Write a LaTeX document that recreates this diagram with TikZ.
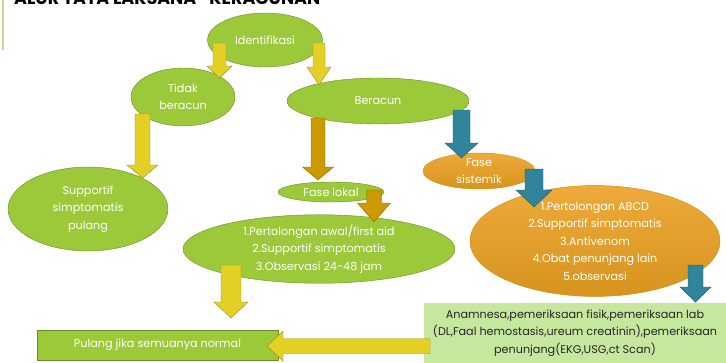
\documentclass[tikz,border=0pt]{standalone}
\usepackage{fontspec}
\setmainfont{Poppins}
\usetikzlibrary{shapes.geometric}
\definecolor{daun}{RGB}{155,201,58}
\definecolor{daunGaris}{RGB}{108,140,42}
\definecolor{mudaHijau}{RGB}{198,232,158}
\definecolor{kuning}{RGB}{228,208,36}
\definecolor{kuningGaris}{RGB}{150,138,30}
\definecolor{coklat}{RGB}{204,153,0}
\definecolor{coklatGaris}{RGB}{140,104,0}
\definecolor{biruTua}{RGB}{49,133,155}
\definecolor{biruGaris}{RGB}{30,88,108}
\definecolor{oranye}{RGB}{238,170,58}
\definecolor{oranyeGelap}{RGB}{214,148,30}
\newcommand\teks{\fontsize{11.2}{17.5}\selectfont}
\newcommand\Panah[7][]{
\filldraw[#1]
  ({#2-#6},#3) -- ({#2+#6},#3) -- ({#2+#6},#4) -- ({#2+#7},#4)
  -- (#2,#5) -- ({#2-#7},#4) -- ({#2-#6},#4) -- cycle;
}
\tikzset{
  bulat/.style={ellipse,draw=daunGaris,fill=daun,text=white,inner sep=0pt,align=center,font=\teks},
  bulatOranye/.style={bulat,draw=oranyeGelap,top color=oranye,bottom color=oranyeGelap},
  kotak/.style={rectangle,draw=daunGaris,fill=daun,text=white,inner sep=0pt,align=center,font=\teks},
  pKuning/.style={fill=kuning,draw=kuningGaris},
  pCoklat/.style={fill=coklat,draw=coklatGaris},
  pBiru/.style={fill=biruTua,draw=biruGaris}
}
\begin{document}
\begin{tikzpicture}[x=1pt,y=-1pt]
\useasboundingbox (0,0) rectangle (726,362);
\begin{scope}
\clip (0,0) rectangle (726,362);
\node[anchor=base west,inner sep=0pt,font=\fontsize{17.5}{17.5}\bfseries] (judul) at (14,4) {ALUR TATA LAKSANA ``KERACUNAN''};
\end{scope}
\draw[line width=2pt,mudaHijau!80!daun] (3,0) -- (3,50);

\node[bulat,minimum width=115pt,minimum height=54pt] (identifikasi) at (265,40) {Identifikasi};
\node[bulat,minimum width=104pt,minimum height=58pt] (tidak) at (183,97) {Tidak\\beracun};
\node[bulat,minimum width=182pt,minimum height=46pt] (beracun) at (378,101) {Beracun};
\node[bulat,minimum width=160pt,minimum height=84pt] (supportif) at (88,209) {Supportif\\simptomatis\\pulang};
\node[bulat,minimum width=106pt,minimum height=20pt] (lokal) at (331,192) {Fase lokal};
\node[bulat,minimum width=272pt,minimum height=62pt] (tindakLokal) at (319,249) {1.Pertolongan awal/first aid\\2.Supportif simptomatis\\3.Observasi 24-48 jam};
\node[bulatOranye,minimum width=112pt,minimum height=36pt] (sistemik) at (479,171) {Fase\\sistemik};
\node[bulatOranye,minimum width=250pt,minimum height=88pt] (tindakSistemik) at (595,241) {1.Pertolongan ABCD\\2.Supportif simptomatis\\3.Antivenom\\4.Obat penunjang lain\\5.observasi};
\node[kotak,draw=none,fill=mudaHijau,text=black!85,minimum width=302pt,minimum height=60pt] (periksa) at (575,333) {Anamnesa,pemeriksaan fisik,pemeriksaan lab\\(DL,Faal hemostasis,ureum creatinin),pemeriksaan\\penunjang(EKG,USG,ct Scan)};
\node[kotak,minimum width=241pt,minimum height=30pt] (pulang) at (157.5,345) {Pulang jika semuanya normal};

\Panah[pKuning]{219.5}{43}{66}{78}{6.5}{12.5}
\Panah[pKuning]{319}{43}{67}{85}{6}{12}
\Panah[pKuning]{142.5}{114}{165}{178}{7.5}{15.5}
\Panah[pCoklat]{318}{118}{167}{180}{7}{15.5}
\Panah[pCoklat]{374}{190}{203}{222}{7.5}{16.5}
\Panah[pBiru]{461.5}{110}{143}{158}{8.5}{16.5}
\Panah[pBiru]{534}{169}{190}{207}{9}{18}
\Panah[pBiru]{695.5}{265}{287}{302}{7.5}{15.5}
\Panah[pKuning]{231}{265}{302}{318}{10}{17}
\filldraw[pKuning]
  (430,338.5) -- (283,338.5) -- (283,331) -- (267,346)
  -- (283,361) -- (283,353.5) -- (430,353.5) -- cycle;
\end{tikzpicture}
\end{document}
